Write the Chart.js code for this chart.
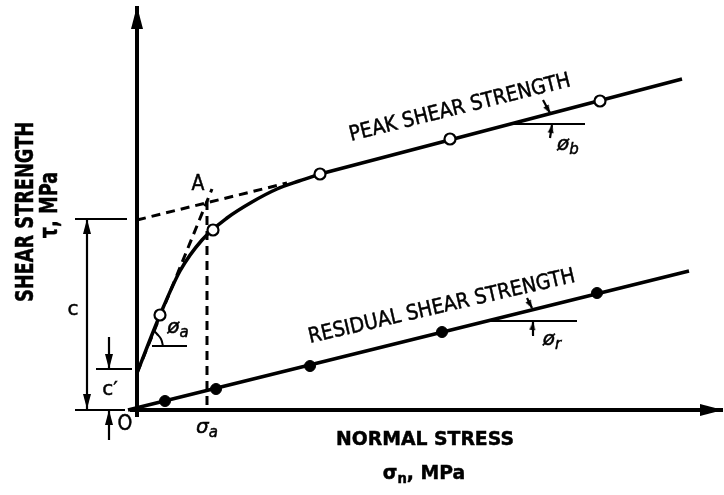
<!DOCTYPE html>
<html lang="en">
<head>
<meta charset="UTF-8">
<title>Peak and residual shear strength</title>
<script src="https://cdn.jsdelivr.net/npm/chart.js"></script>
<style>
  html, body { margin: 0; padding: 0; background: #fff; }
  canvas { display: block; }
</style>
</head>
<body>
<canvas id="chart" width="724" height="495"></canvas>
<script>
// schematic units, O = (0, 0)
const axisY = [{x: 0, y: -0.7}, {x: 0, y: 40.4}];
const axisX = [{x: -0.7, y: 0}, {x: 58.6, y: 0}];

const peakCurve = [
  {x: 0, y: 3.7}, {x: 2.3, y: 9.5}, {x: 4.3, y: 13.9}, {x: 6.5, y: 17.0},
  {x: 9.0, y: 19.2}, {x: 11.5, y: 20.8}, {x: 14.0, y: 22.1}, {x: 16.2, y: 22.9},
  {x: 18.3, y: 23.6}
];
const peakLine = [{x: 18.3, y: 23.6}, {x: 54.5, y: 33.1}];
const peakTests = [
  {x: 2.3, y: 9.5}, {x: 7.6, y: 18.0}, {x: 18.3, y: 23.6},
  {x: 31.3, y: 27.1}, {x: 46.3, y: 30.9}
];

const residualLine = [{x: -0.9, y: 0}, {x: 55.2, y: 13.9}];
const residualTests = [
  {x: 2.8, y: 0.9}, {x: 7.9, y: 2.1}, {x: 17.3, y: 4.4},
  {x: 30.5, y: 7.8}, {x: 46.0, y: 11.7}
];

// construction lines (dashed)
const cohesionLine = [{x: 0, y: 19.0}, {x: 15.0, y: 22.7}];
const tangentLine = [{x: 0, y: 3.7}, {x: 7.5, y: 22.1}];
const sigmaALine = [{x: 7.0, y: 20.9}, {x: 7.0, y: 0}];

// dimension lines, angle legs and arrow stems
const thinSegments = [
  [{x: -6.2, y: 19.1}, {x: -1.0, y: 19.1}],
  [{x: -6.2, y: 0}, {x: -1.2, y: 0}],
  [{x: -5.0, y: 0.1}, {x: -5.0, y: 19.1}],
  [{x: -4.1, y: 4.1}, {x: -0.5, y: 4.1}],
  [{x: -2.8, y: 7.3}, {x: -2.8, y: 4.1}],
  [{x: -2.8, y: -3.0}, {x: -2.8, y: 0}],
  [{x: 1.5, y: 6.4}, {x: 5.0, y: 6.4}],
  [{x: 37.5, y: 28.6}, {x: 44.8, y: 28.6}],
  [{x: 40.6, y: 31.0}, {x: 41.3, y: 29.7}],
  [{x: 41.3, y: 27.2}, {x: 41.5, y: 28.5}],
  [{x: 34.9, y: 8.9}, {x: 44.0, y: 8.9}],
  [{x: 39.0, y: 11.2}, {x: 39.5, y: 10.2}],
  [{x: 39.5, y: 7.5}, {x: 39.6, y: 8.8}]
];
const angleArc = [{x: 2.6, y: 6.4}, {x: 2.4, y: 7.1}, {x: 2.0, y: 7.6}, {x: 1.7, y: 7.9}];

// arrow heads: tip, direction (deg, clockwise from up), size
const arrowTips = [
  {x: 0, y: 40.4}, {x: 58.6, y: 0},
  {x: -5.0, y: 19.1}, {x: -5.0, y: 0.1}, {x: -2.8, y: 4.1}, {x: -2.8, y: 0},
  {x: 41.3, y: 29.7}, {x: 41.5, y: 28.5}, {x: 39.5, y: 10.2}, {x: 39.6, y: 8.8}
];
const arrowDirs = [0, 90, 0, 180, 180, 0, 150, 10, 151, 5];
const arrowKinds = ['big', 'big', 'mid', 'mid', 'mid', 'mid', 'small', 'small', 'small', 'small'];

const F = '"DejaVu Sans", Verdana, sans-serif';
const labels = [
  {x: 21.4, y: 26.9, rot: -14, sx: 0.9, align: 'left', base: 'alphabetic', parts: [{t: 'PEAK SHEAR STRENGTH', font: '21px ' + F}]},
  {x: 17.3, y: 6.7, rot: -13, sx: 0.9, align: 'left', base: 'alphabetic', parts: [{t: 'RESIDUAL SHEAR STRENGTH', font: '21px ' + F}]},
  {x: -11.0, y: 19.8, rot: -90, sx: 0.74, parts: [{t: 'SHEAR STRENGTH', font: 'bold 24px ' + F}]},
  {x: -8.6, y: 20.5, rot: -90, sx: 0.74, parts: [{t: 'τ, MPa', font: 'bold 24px ' + F}]},
  {x: 28.8, y: -3.0, sx: 0.94, parts: [{t: 'NORMAL STRESS', font: 'bold 20px ' + F}]},
  {x: 28.7, y: -6.4, sx: 0.94, parts: [{t: 'σ', font: 'bold 20px ' + F}, {t: 'n', font: 'bold 14px ' + F, dy: 5}, {t: ', MPa', font: 'bold 20px ' + F}]},
  {x: 6.1, y: 22.5, sx: 0.9, parts: [{t: 'A', font: '21px ' + F}]},
  {x: -6.4, y: 10.0, parts: [{t: 'c', font: '20px ' + F}]},
  {x: -2.7, y: 2.0, parts: [{t: 'c′', font: '20px ' + F}]},
  {x: -1.2, y: -1.5, sx: 0.9, parts: [{t: 'O', font: '21px ' + F}]},
  {x: 7.0, y: -1.8, parts: [{t: 'σ', font: 'italic 20px ' + F}, {t: 'a', font: 'italic 15px ' + F, dy: 5}]},
  {x: 4.1, y: 8.2, parts: [{t: 'ø', font: 'italic 20px ' + F}, {t: 'a', font: 'italic 15px ' + F, dy: 5}]},
  {x: 43.1, y: 26.5, parts: [{t: 'ø', font: 'italic 20px ' + F}, {t: 'b', font: 'italic 15px ' + F, dy: 5}]},
  {x: 41.5, y: 7.0, parts: [{t: 'ø', font: 'italic 20px ' + F}, {t: 'r', font: 'italic 15px ' + F, dy: 5}]}
];

function arrowCanvas(len, wid) {
  const c = document.createElement('canvas');
  c.width = 2 * len; c.height = 2 * len;
  const g = c.getContext('2d');
  g.fillStyle = '#000';
  g.beginPath();
  g.moveTo(len, len);
  g.lineTo(len - wid / 2, 2 * len);
  g.lineTo(len + wid / 2, 2 * len);
  g.closePath();
  g.fill();
  return c;
}
const heads = {big: arrowCanvas(23, 12), mid: arrowCanvas(15, 8), small: arrowCanvas(8, 6)};

function seg(data, width, extra) {
  return Object.assign({
    data, showLine: true, borderColor: '#000', borderWidth: width,
    pointRadius: 0, fill: false, tension: 0, borderCapStyle: 'butt'
  }, extra || {});
}

const textPlugin = {
  id: 'texts',
  afterDatasetsDraw(chart) {
    const ctx = chart.ctx, xs = chart.scales.x, ys = chart.scales.y;
    labels.forEach(l => {
      ctx.save();
      ctx.translate(xs.getPixelForValue(l.x), ys.getPixelForValue(l.y));
      ctx.rotate((l.rot || 0) * Math.PI / 180);
      ctx.scale(l.sx || 1, 1);
      ctx.fillStyle = '#000';
      ctx.strokeStyle = '#000';
      ctx.lineWidth = 0.5;
      ctx.textBaseline = l.base || 'middle';
      let w = 0;
      l.parts.forEach(p => { ctx.font = p.font; w += ctx.measureText(p.t).width; });
      let cx = l.align === 'left' ? 0 : -w / 2;
      l.parts.forEach(p => {
        ctx.font = p.font;
        ctx.fillText(p.t, cx, p.dy || 0);
        ctx.strokeText(p.t, cx, p.dy || 0);
        cx += ctx.measureText(p.t).width;
      });
      ctx.restore();
    });
  }
};

const datasets = [
  // markers first so they sit on top
  {data: arrowTips, showLine: false, pointRadius: 5,
   pointStyle: arrowKinds.map(k => heads[k]), pointRotation: arrowDirs},
  {data: peakTests, showLine: false, pointRadius: 5.5, pointBackgroundColor: '#fff',
   pointBorderColor: '#000', pointBorderWidth: 2.2},
  {data: residualTests, showLine: false, pointRadius: 5.5, pointBackgroundColor: '#000',
   pointBorderColor: '#000', pointBorderWidth: 1},
  seg(axisY, 4),
  seg(axisX, 4),
  seg(peakCurve, 3.5, {cubicInterpolationMode: 'monotone'}),
  seg(peakLine, 3.5),
  seg(residualLine, 3.5),
  seg(cohesionLine, 3, {borderDash: [9, 6]}),
  seg(tangentLine, 3, {borderDash: [9, 6]}),
  seg(sigmaALine, 3, {borderDash: [9, 6]}),
  seg(angleArc, 2, {tension: 0.4}),
  ...thinSegments.map(s => seg(s, 2.2))
];

new Chart(document.getElementById('chart'), {
  type: 'scatter',
  data: {datasets},
  options: {
    responsive: false,
    animation: false,
    events: [],
    layout: {padding: 0, autoPadding: false},
    clip: false,
    plugins: {legend: {display: false}, tooltip: {enabled: false}},
    scales: {
      x: {type: 'linear', display: false, min: -13.7, max: 58.7},
      y: {type: 'linear', display: false, min: -8.5, max: 41.0}
    }
  },
  plugins: [textPlugin]
});
</script>
</body>
</html>
